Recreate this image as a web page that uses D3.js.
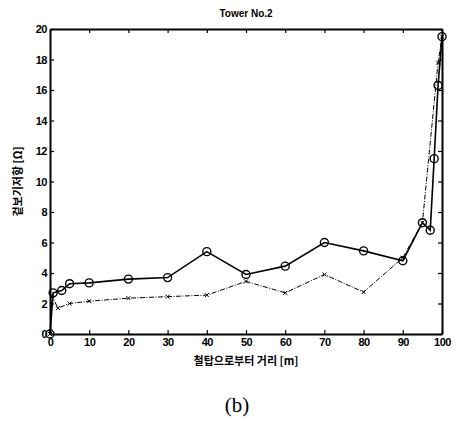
<!DOCTYPE html>
<html>
<head>
<meta charset="utf-8">
<script src="https://cdn.jsdelivr.net/npm/d3@7"></script>
<style>
body { margin: 0; background: #fff; }
text { font-family: "Liberation Sans", Arial, sans-serif; }
</style>
</head>
<body>
<script>
var width = 458,
    height = 421;

// distance from tower [m]
var circleX = [0, 0.8, 3, 5, 10, 20, 30, 40, 50, 60, 70, 80, 90, 95, 97, 98, 99, 100];
var circleY = [0, 2.7, 2.85, 3.3, 3.35, 3.6, 3.7, 5.4, 3.9, 4.45, 6.0, 5.45, 4.8, 7.3, 6.8, 11.5, 16.3, 19.5];
var crossX = [0, 0.5, 2, 5, 10, 20, 30, 40, 50, 60, 70, 80, 90, 95, 99, 100];
var crossY = [0, 2.5, 1.7, 2.0, 2.15, 2.35, 2.45, 2.55, 3.45, 2.7, 3.9, 2.75, 5.0, 7.3, 17.8, 19.5];
var xTicks = [0, 10, 20, 30, 40, 50, 60, 70, 80, 90, 100];
var yTicks = [0, 2, 4, 6, 8, 10, 12, 14, 16, 18, 20];

var margin = {left: 50, right: 16, top: 29, bottom: 87};

var svg = d3.select("body").append("svg")
    .attr("width", width)
    .attr("height", height);

var x = d3.scaleLinear().domain([0, 100]).range([margin.left, width - margin.right]);
var y = d3.scaleLinear().domain([0, 20]).range([height - margin.bottom, margin.top]);

// inward ticks on all sides
svg.append("g")
    .attr("transform", "translate(0," + y(0) + ")")
    .call(d3.axisBottom(x).tickValues(xTicks).tickSizeInner(-4).tickSizeOuter(0).tickPadding(4));
svg.append("g")
    .attr("transform", "translate(0," + y(20) + ")")
    .call(d3.axisTop(x).tickValues(xTicks).tickSizeInner(-4).tickSizeOuter(0).tickFormat(""));
svg.append("g")
    .attr("transform", "translate(" + x(0) + ",0)")
    .call(d3.axisLeft(y).tickValues(yTicks).tickSizeInner(-4).tickSizeOuter(0).tickPadding(3));
svg.append("g")
    .attr("transform", "translate(" + x(100) + ",0)")
    .call(d3.axisRight(y).tickValues(yTicks).tickSizeInner(-4).tickSizeOuter(0).tickFormat(""));

svg.selectAll(".domain").attr("stroke", "#000").attr("stroke-width", 2);
svg.selectAll(".tick line").attr("stroke", "#000").attr("stroke-width", 1.2);
svg.selectAll(".tick text")
    .attr("fill", "#000")
    .style("font-size", "11px")
    .style("font-weight", "bold")
    .style("letter-spacing", "-0.5px");

// cross series: thin dash-dot line
var crossData = crossX.map(function(d, i) { return [d, crossY[i]]; });
var line = d3.line().x(function(d) { return x(d[0]); }).y(function(d) { return y(d[1]); });

svg.append("path")
    .datum(crossData)
    .attr("fill", "none")
    .attr("stroke", "#000")
    .attr("stroke-width", 1)
    .attr("stroke-dasharray", "5,1.5,1,1.5")
    .attr("d", line);

svg.selectAll(".cross")
    .data(crossData)
  .enter().append("path")
    .attr("class", "cross")
    .attr("transform", function(d) { return "translate(" + x(d[0]) + "," + y(d[1]) + ")"; })
    .attr("d", "M-2,-2L2,2M-2,2L2,-2")
    .attr("stroke", "#000")
    .attr("stroke-width", 1);

// circle series: solid line
var circleData = circleX.map(function(d, i) { return [d, circleY[i]]; });

svg.append("path")
    .datum(circleData)
    .attr("fill", "none")
    .attr("stroke", "#000")
    .attr("stroke-width", 1.6)
    .attr("d", line);

svg.selectAll(".circ")
    .data(circleData)
  .enter().append("circle")
    .attr("class", "circ")
    .attr("cx", function(d) { return x(d[0]); })
    .attr("cy", function(d) { return y(d[1]); })
    .attr("r", 4)
    .attr("fill", "none")
    .attr("stroke", "#000")
    .attr("stroke-width", 1.4);

// labels
svg.append("text")
    .attr("x", 246).attr("y", 17)
    .attr("text-anchor", "middle")
    .style("font-size", "10px")
    .style("font-weight", "bold")
    .text("Tower No.2");

svg.append("text")
    .attr("x", 246).attr("y", 365)
    .attr("text-anchor", "middle")
    .style("font-family", "'Noto Sans CJK KR', sans-serif")
    .style("font-size", "11px")
    .style("font-weight", "bold")
    .text("철탑으로부터 거리 [m]");

svg.append("text")
    .attr("transform", "translate(22," + ((y(0) + y(20)) / 2) + ") rotate(-90)")
    .attr("text-anchor", "middle")
    .style("font-family", "'Noto Sans CJK KR', sans-serif")
    .style("font-size", "11px")
    .style("font-weight", "bold")
    .text("겉보기저항 [Ω]");

svg.append("text")
    .attr("x", 237).attr("y", 412)
    .attr("text-anchor", "middle")
    .style("font-family", "'Liberation Serif', 'DejaVu Serif', serif")
    .style("font-size", "21px")
    .text("(b)");
</script>
</body>
</html>
